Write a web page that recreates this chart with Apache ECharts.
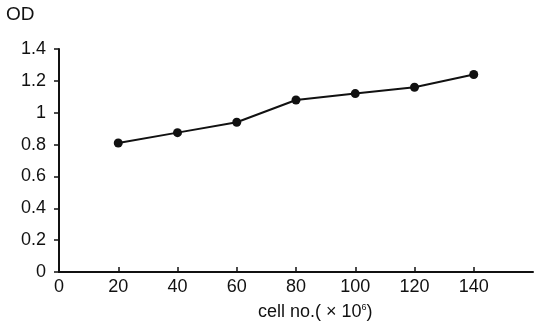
<!DOCTYPE html>
<html>
<head>
<meta charset="utf-8">
<script src="https://cdn.jsdelivr.net/npm/echarts@6/dist/echarts.min.js"></script>
<style>
  html, body { margin: 0; padding: 0; background: #fff; }
  #chart { width: 534px; height: 335px; }
</style>
</head>
<body>
<div id="chart"></div>
<script>
const cellNo = [20, 40, 60, 80, 100, 120, 140];
const od = [0.81, 0.875, 0.94, 1.08, 1.12, 1.16, 1.24];

const chart = echarts.init(document.getElementById("chart"));

const font = "Liberation Sans";

chart.setOption({
  animation: false,
  backgroundColor: "#fff",
  grid: { left: 59, right: 1, top: 49, bottom: 63 },
  graphic: [
    {
      type: "text",
      left: 6,
      top: 5,
      style: { text: "OD", font: "19px " + font, fill: "#111" }
    },
    {
      type: "text",
      left: 258,
      top: 303,
      style: {
        text: "{a|cell no.( × 10}{s|6}{a|)}",
        rich: {
          a: { fontFamily: font, fontSize: 18, fill: "#111" },
          s: { fontFamily: font, fontSize: 9, fill: "#111", verticalAlign: "top", padding: [0, 0, 8, 0] }
        }
      }
    }
  ],
  xAxis: {
    type: "value",
    min: 0,
    max: 160,
    interval: 20,
    splitLine: { show: false },
    axisLine: { lineStyle: { color: "#111", width: 2 } },
    axisTick: { inside: true, length: 5, lineStyle: { color: "#111", width: 1.5 } },
    axisLabel: {
      showMaxLabel: false,
      margin: 6,
      color: "#111",
      fontFamily: font,
      fontSize: 18
    }
  },
  yAxis: {
    type: "value",
    min: 0,
    max: 1.4,
    interval: 0.2,
    splitLine: { show: false },
    axisLine: { show: true, lineStyle: { color: "#111", width: 2 } },
    axisTick: { show: true, length: 5, lineStyle: { color: "#111", width: 1.5 } },
    axisLabel: {
      margin: 13,
      color: "#111",
      fontFamily: font,
      fontSize: 18,
      formatter: v => String(Math.round(v * 10) / 10)
    }
  },
  series: [
    {
      type: "line",
      data: cellNo.map((x, i) => [x, od[i]]),
      symbol: "circle",
      symbolSize: 9,
      lineStyle: { color: "#111", width: 2 },
      itemStyle: { color: "#111" }
    }
  ]
});
</script>
</body>
</html>
